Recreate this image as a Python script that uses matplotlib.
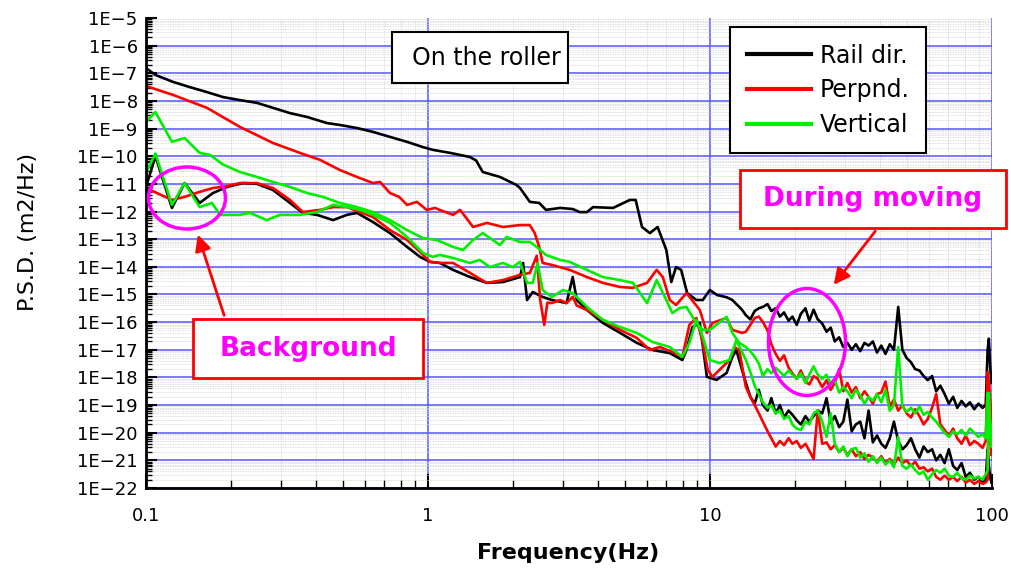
import numpy as np
import matplotlib
matplotlib.use("Agg")
import matplotlib.pyplot as plt
from matplotlib.patches import Ellipse, Rectangle, FancyArrowPatch
from matplotlib.ticker import FixedLocator, FixedFormatter, LogLocator, NullFormatter

# ---- data (frequency in Hz, PSD as log10 exponent) ----
# low-frequency part of each trace, own frequency points
# During moving
mv_black_f = [0.1, 0.108, 0.1246, 0.143, 0.1645, 0.1875, 0.2154, 0.2475, 0.282, 0.324,
              0.3724, 0.438, 0.4875, 0.56, 0.638, 0.733, 0.843, 0.96, 1.041, 1.2,
              1.409, 1.48, 1.564, 1.8, 2.06, 2.12, 2.297, 2.48, 2.62, 2.94,
              3.26, 3.45, 3.66, 3.85, 4.53, 5.2, 5.45, 5.74, 6.12, 6.52,
              7.0, 7.29, 7.58, 7.9, 8.3, 8.94, 9.43, 9.98, 10.6, 11.45,
              12.0, 12.7, 13.0]
mv_black_e = [-6.81, -7.06, -7.31, -7.50, -7.68, -7.86, -7.97, -8.07, -8.25, -8.44,
              -8.58, -8.80, -8.87, -8.98, -9.12, -9.30, -9.48, -9.67, -9.77, -9.88,
              -10.03, -10.15, -10.57, -10.75, -11.04, -11.15, -11.65, -11.69, -11.94, -11.87,
              -11.91, -12.02, -12.02, -11.84, -11.87, -11.58, -11.58, -12.56, -12.78, -12.56,
              -13.39, -14.55, -14.01, -14.11, -14.95, -15.20, -15.20, -14.84, -15.02, -15.10,
              -15.20, -15.45, -15.56]

mv_red_f = [0.1, 0.1246, 0.1645, 0.2154, 0.282, 0.3517, 0.414, 0.4875, 0.56, 0.638,
            0.676, 0.733, 0.79, 0.843, 0.914, 0.99, 1.06, 1.10, 1.227, 1.30,
            1.445, 1.616, 1.845, 2.12, 2.297, 2.39, 2.48, 2.55, 2.75, 3.18,
            3.66, 4.17, 4.8, 5.33, 5.98, 6.47, 6.8, 7.2, 7.58, 8.25,
            9.2, 9.75, 10.2, 11.45, 12.0, 13.0]
mv_red_e = [-7.46, -7.78, -8.25, -8.94, -9.52, -9.88, -10.13, -10.50, -10.75, -10.97,
            -10.93, -11.33, -11.47, -11.76, -11.65, -11.94, -11.87, -11.94, -12.12, -11.94,
            -12.56, -12.41, -12.56, -12.49, -12.49, -12.78, -13.28, -13.86, -13.93, -14.11,
            -14.37, -14.58, -14.73, -14.76, -14.58, -14.11, -14.37, -15.20, -15.38, -14.95,
            -15.56, -16.39, -16.03, -15.85, -16.28, -16.39]

mv_green_f = [0.1, 0.108, 0.1236, 0.137, 0.155, 0.1686, 0.1875, 0.2154, 0.2475, 0.282,
              0.324, 0.3724, 0.4243, 0.4875, 0.56, 0.638, 0.733, 0.843, 0.96, 1.075,
              1.227, 1.332, 1.445, 1.564, 1.697, 1.8, 1.9, 2.12, 2.297, 2.43,
              2.62, 2.94, 3.18, 3.66, 4.17, 4.8, 5.33, 5.65, 5.98, 6.47,
              7.0, 7.35, 7.8, 8.25, 8.94, 9.43, 9.98, 11.45, 12.0, 12.7]
mv_green_e = [-8.76, -8.40, -9.48, -9.34, -9.88, -9.95, -10.30, -10.57, -10.75, -10.93,
              -11.11, -11.33, -11.47, -11.69, -11.84, -12.02, -12.31, -12.67, -12.96, -13.03,
              -13.28, -13.39, -13.03, -12.78, -13.03, -13.21, -12.92, -13.10, -13.10, -13.28,
              -13.57, -13.75, -13.82, -14.11, -14.37, -14.48, -14.58, -14.95, -15.31, -14.48,
              -15.20, -15.67, -15.49, -15.45, -16.03, -16.28, -16.28, -15.81, -16.39, -16.75]

# Background
bg_black_f = [0.1, 0.108, 0.1236, 0.137, 0.155, 0.1728, 0.1937, 0.2207, 0.2475, 0.282,
              0.324, 0.36, 0.404, 0.4604, 0.516, 0.56, 0.638, 0.733, 0.843, 0.937,
              1.016, 1.102, 1.227, 1.409, 1.616, 1.845, 2.12, 2.174, 2.245, 2.353,
              2.55, 2.75, 3.1, 3.26, 3.37, 3.66, 4.17, 4.8, 5.5, 6.26,
              7.2, 7.98, 8.25, 8.66, 9.2, 9.75, 10.55, 11.45, 12.0, 12.4]
bg_black_e = [-11.11, -10.00, -11.87, -10.97, -11.69, -11.33, -11.11, -10.97, -11.00, -11.22,
              -11.69, -12.05, -12.12, -12.31, -12.12, -12.05, -12.38, -12.78, -13.28, -13.64,
              -13.82, -13.86, -14.11, -14.37, -14.58, -14.55, -14.37, -13.86, -15.20, -14.91,
              -15.09, -15.20, -15.31, -14.37, -15.20, -15.56, -16.03, -16.39, -16.75, -17.01,
              -17.12, -17.37, -17.01, -16.18, -16.03, -17.98, -18.09, -17.84, -17.26, -17.01]

bg_red_f = [0.1, 0.1236, 0.137, 0.155, 0.1728, 0.1937, 0.2154, 0.2475, 0.282, 0.324,
            0.36, 0.414, 0.4604, 0.516, 0.574, 0.638, 0.733, 0.843, 0.937, 1.016,
            1.102, 1.227, 1.409, 1.616, 1.845, 2.12, 2.297, 2.43, 2.5, 2.584,
            2.65, 2.75, 2.94, 3.1, 3.26, 3.37, 3.66, 4.17, 4.8, 5.5,
            6.12, 6.63, 7.35, 7.98, 8.45, 8.94, 9.43, 9.82, 10.2, 10.8,
            11.73, 12.2, 12.7]
bg_red_e = [-11.15, -11.58, -11.47, -11.29, -11.15, -11.08, -10.97, -10.97, -11.15, -11.58,
            -12.02, -11.94, -11.84, -11.84, -12.02, -12.20, -12.67, -13.03, -13.46, -13.82,
            -13.86, -13.86, -14.22, -14.58, -14.48, -14.29, -14.22, -13.60, -15.20, -16.10,
            -15.30, -15.31, -15.20, -15.31, -15.09, -15.40, -15.56, -15.92, -16.28, -16.57,
            -17.01, -16.90, -17.08, -17.26, -16.10, -15.85, -16.75, -17.73, -17.98, -17.73,
            -17.37, -16.90, -17.01]

bg_green_f = [0.1, 0.108, 0.1236, 0.137, 0.155, 0.1714, 0.183, 0.2154, 0.2338, 0.268,
              0.2987, 0.3517, 0.404, 0.4604, 0.516, 0.574, 0.638, 0.733, 0.843, 0.96,
              1.041, 1.102, 1.227, 1.409, 1.526, 1.656, 1.845, 1.995, 2.12, 2.245,
              2.353, 2.446, 2.55, 2.75, 3.01, 3.26, 3.66, 4.17, 4.8, 5.5,
              6.26, 7.2, 7.98, 8.45, 8.94, 9.43, 9.98, 10.8, 11.73, 12.4]
bg_green_e = [-10.60, -9.90, -11.76, -10.97, -11.84, -11.69, -12.12, -12.12, -12.05, -12.31,
              -12.12, -12.12, -12.02, -11.76, -11.84, -11.94, -12.12, -12.41, -12.92, -13.50,
              -13.64, -13.57, -13.68, -13.86, -13.75, -14.01, -13.86, -14.01, -13.82, -14.58,
              -14.58, -13.86, -14.84, -15.09, -14.84, -14.95, -15.45, -15.92, -16.18, -16.39,
              -16.72, -16.90, -17.26, -16.75, -15.92, -16.54, -17.37, -17.48, -17.37, -16.65]

# high-frequency part, common frequency points (Hz)
hf_f = [13.4, 13.9, 14.4, 14.9, 15.4, 16.0, 16.5, 17.1, 17.7, 18.3,
        19.0, 19.6, 20.3, 21.0, 21.8, 22.5, 23.3, 24.1, 25.0, 25.9,
        26.8, 27.7, 28.7, 29.7, 30.7, 31.8, 32.9, 34.1, 35.3, 36.5,
        37.8, 39.1, 40.5, 41.9, 43.4, 44.9, 46.5, 48.1, 49.8, 51.6,
        53.4, 55.3, 57.2, 59.2, 61.3, 63.4, 65.6, 67.9, 70.3, 72.8,
        75.3, 78.0, 80.7, 83.5, 86.5, 89.5, 92.6, 95.0, 96.5, 97.5,
        98.5, 99.5]
hf_mv_black = [-15.75, -15.90, -15.60, -15.50, -15.45, -15.35, -15.60, -15.50, -15.80, -15.65,
               -15.95, -15.80, -16.10, -15.70, -15.50, -15.95, -15.55, -15.90, -16.05, -16.35,
               -16.20, -16.70, -16.55, -16.90, -16.75, -17.00, -16.80, -17.05, -16.75, -16.85,
               -16.70, -17.10, -16.85, -17.15, -16.80, -17.00, -15.45, -17.00, -17.30, -17.45,
               -17.70, -17.75, -17.95, -18.10, -17.95, -18.50, -18.30, -18.60, -18.95, -18.70,
               -19.10, -18.85, -19.05, -18.90, -19.15, -18.95, -19.10, -19.00, -17.00, -16.60,
               -17.60, -18.20]
hf_mv_red = [-16.35, -16.10, -15.85, -15.80, -16.00, -16.30, -16.80, -17.15, -17.40, -17.20,
             -17.65, -17.85, -18.05, -17.75, -18.15, -18.25, -17.95, -18.05, -18.35, -18.10,
             -18.45, -18.20, -17.70, -18.50, -18.20, -18.55, -18.35, -18.75, -18.50, -18.70,
             -18.95, -18.60, -18.55, -18.15, -19.05, -18.80, -19.20, -19.00, -19.30, -19.45,
             -19.15, -19.40, -19.70, -19.50, -19.10, -18.60, -19.70, -19.90, -20.10, -19.85,
             -20.20, -20.40, -20.10, -20.45, -20.30, -20.40, -20.55, -20.30, -17.80, -18.20,
             -18.80, -19.60]
hf_mv_green = [-16.90, -17.05, -17.25, -17.50, -17.95, -17.70, -17.85, -17.65, -17.80, -17.95,
               -17.75, -17.90, -18.05, -17.85, -18.20, -17.90, -17.60, -17.90, -18.05, -17.90,
               -18.25, -18.10, -18.55, -18.35, -18.50, -18.75, -18.45, -18.65, -18.95, -18.70,
               -18.85, -18.60, -18.90, -18.45, -19.20, -19.00, -16.90, -19.05, -19.25, -19.10,
               -19.30, -19.05, -19.35, -19.25, -19.45, -19.60, -19.80, -20.00, -20.15, -19.95,
               -20.05, -19.90, -20.10, -19.85, -20.00, -20.15, -20.05, -20.20, -18.56, -19.00,
               -19.60, -20.10]
hf_bg_black = [-18.20, -18.70, -18.95, -18.45, -19.00, -19.20, -18.75, -19.30, -19.00, -19.45,
               -19.20, -19.35, -19.55, -19.70, -19.40, -19.60, -19.40, -19.20, -19.30, -18.75,
               -19.65, -19.40, -19.80, -19.60, -18.80, -19.95, -19.70, -19.60, -20.20, -19.20,
               -20.35, -20.10, -20.40, -20.55, -20.20, -19.60, -20.30, -20.60, -20.45, -20.20,
               -20.60, -20.90, -20.50, -20.70, -20.60, -21.00, -20.80, -21.10, -20.60, -21.20,
               -21.35, -21.10, -21.60, -21.45, -21.70, -21.60, -21.80, -21.70, -20.60, -21.20,
               -21.60, -21.80]
hf_bg_red = [-18.35, -18.70, -19.00, -19.30, -19.60, -19.95, -20.20, -20.50, -20.30, -20.45,
             -20.20, -20.40, -20.30, -20.55, -20.40, -20.65, -20.95, -19.20, -20.40, -20.35,
             -20.60, -20.45, -20.70, -20.55, -20.80, -20.60, -20.85, -20.70, -20.95, -20.80,
             -20.90, -21.05, -20.85, -21.10, -20.95, -21.15, -20.90, -21.10, -21.00, -21.20,
             -21.05, -21.30, -21.25, -21.40, -21.30, -21.60, -21.70, -21.55, -21.70, -21.60,
             -21.75, -21.60, -21.80, -21.70, -21.85, -21.75, -21.85, -21.80, -21.70, -18.20,
             -19.80, -20.80]
hf_bg_green = [-17.37, -17.80, -18.30, -18.60, -18.90, -19.10, -19.00, -19.30, -19.20, -19.50,
               -19.40, -19.70, -19.85, -19.90, -19.60, -19.70, -19.30, -19.20, -19.60, -20.15,
               -19.30, -20.40, -20.70, -20.50, -20.85, -20.60, -20.55, -20.90, -20.75, -21.05,
               -20.85, -21.10, -20.90, -21.15, -21.00, -21.25, -20.15, -21.20, -21.30, -21.15,
               -21.35, -21.50, -21.40, -21.70, -21.50, -21.35, -21.45, -21.30, -21.55, -21.60,
               -21.45, -21.65, -21.70, -21.55, -21.65, -21.60, -21.70, -21.50, -21.35, -18.56,
               -19.80, -20.50]

legend_labels = ["Rail dir.", "Perpnd.", "Vertical"]
x_ticks = [0.1, 1, 10, 100]
x_ticklabels = ["0.1", "1", "10", "100"]
y_exponents = list(range(-22, -4))
y_ticklabels = ["1E\u2212%d" % (-k) for k in y_exponents]

W, H = 1012, 577


def fx(px):
    return px / W


def fy(py):
    return 1 - py / H


def trace(f_lo, e_lo, e_hi):
    f = np.array(f_lo + hf_f)
    return f, 10.0 ** np.array(e_lo + e_hi)


fig = plt.figure(figsize=(W / 100, H / 100), dpi=100)
ax = fig.add_axes([fx(146), fy(488), (992 - 146) / W, (488 - 18) / H])

lw = 1.9
ax.plot(*trace(bg_black_f, bg_black_e, hf_bg_black), color="black", lw=lw)
ax.plot(*trace(mv_black_f, mv_black_e, hf_mv_black), color="black", lw=lw, label=legend_labels[0])
ax.plot(*trace(bg_red_f, bg_red_e, hf_bg_red), color="#ff0000", lw=lw)
ax.plot(*trace(mv_red_f, mv_red_e, hf_mv_red), color="#ff0000", lw=lw, label=legend_labels[1])
ax.plot(*trace(bg_green_f, bg_green_e, hf_bg_green), color="#00ee00", lw=lw)
ax.plot(*trace(mv_green_f, mv_green_e, hf_mv_green), color="#00ee00", lw=lw, label=legend_labels[2])

ax.set_xscale("log")
ax.set_yscale("log")
ax.set_xlim(0.1, 100)
ax.set_ylim(1e-22, 1e-5)

ax.xaxis.set_major_locator(FixedLocator(x_ticks))
ax.xaxis.set_major_formatter(FixedFormatter(x_ticklabels))
ax.xaxis.set_minor_locator(LogLocator(base=10, subs=np.arange(2, 10), numticks=50))
ax.xaxis.set_minor_formatter(NullFormatter())
ax.yaxis.set_major_locator(FixedLocator([10.0 ** k for k in y_exponents]))
ax.yaxis.set_major_formatter(FixedFormatter(y_ticklabels))
ax.yaxis.set_minor_locator(LogLocator(base=10, subs=np.arange(2, 10), numticks=100))
ax.yaxis.set_minor_formatter(NullFormatter())

ax.set_axisbelow(True)
ax.grid(which="minor", color="#d2d2d2", lw=0.6, ls=(0, (1, 1)))
ax.grid(which="major", color="#5555ff", lw=1.1)
ax.yaxis.get_gridlines()[-1].set_visible(False)

for s in ["top", "right"]:
    ax.spines[s].set_visible(False)
for s in ["left", "bottom"]:
    ax.spines[s].set_linewidth(2)

ax.tick_params(axis="y", which="major", direction="in", length=8, width=1.5, labelsize=13, pad=6)
ax.tick_params(axis="y", which="minor", direction="in", length=4, width=1)
ax.tick_params(axis="x", which="major", direction="in", length=10, width=1.5, labelsize=13, pad=14)
ax.tick_params(axis="x", which="minor", direction="in", length=6, width=1)

ax.set_xlabel("Frequency(Hz)", fontsize=16, fontweight="bold")
ax.xaxis.set_label_coords((568 - 146) / 846, (488 - 553) / 470)
ax.xaxis.label.set_va("center")
ax.set_ylabel("P.S.D. (m2/Hz)", fontsize=16)
ax.yaxis.set_label_coords((28 - 146) / 846, (488 - 232) / 470)
ax.yaxis.label.set_va("center")

leg = ax.legend(loc="upper left", bbox_to_anchor=((730 - 146) / 846, (488 - 27) / 470),
                fontsize=17, frameon=True, fancybox=False, framealpha=1,
                edgecolor="black", borderpad=0.7, labelspacing=0.45,
                handlelength=2.75, handletextpad=0.35, borderaxespad=0)
leg.get_frame().set_linewidth(1.5)
for h in leg.get_lines():
    h.set_linewidth(3)


# text boxes
def box(x0, y0, x1, y1, ec, lw_box):
    r = Rectangle((fx(x0), fy(y1)), fx(x1) - fx(x0), fy(y0) - fy(y1),
                  transform=fig.transFigure, facecolor="white", edgecolor=ec, lw=lw_box, zorder=5)
    fig.add_artist(r)


box(392, 32, 568, 83, "black", 1.5)
fig.text(fx(486), fy(58), "On the roller", fontsize=17, ha="center", va="center", zorder=6)

box(740, 170, 1006, 228, "red", 2)
fig.text(fx(873), fy(199), "During moving", fontsize=19, fontweight="bold",
         color="#ff00ff", ha="center", va="center", zorder=6)

box(193, 319, 423, 378, "red", 2)
fig.text(fx(308), fy(349), "Background", fontsize=19, fontweight="bold",
         color="#ff00ff", ha="center", va="center", zorder=6)

# ellipses
fig.add_artist(Ellipse((fx(807), fy(342)), 77 / W, 107 / H, transform=fig.transFigure,
                       fill=False, edgecolor="#ff00ff", lw=2.5, zorder=4))
fig.add_artist(Ellipse((fx(187), fy(198)), 77 / W, 62 / H, transform=fig.transFigure,
                       fill=False, edgecolor="#ff00ff", lw=2.5, zorder=4))

# arrows
fig.add_artist(FancyArrowPatch((fx(877), fy(229)), (fx(832), fy(287)), transform=fig.transFigure,
                               arrowstyle="-|>", mutation_scale=24, color="red", lw=2, zorder=4))
fig.add_artist(FancyArrowPatch((fx(225), fy(318)), (fx(197), fy(232)), transform=fig.transFigure,
                               arrowstyle="-|>", mutation_scale=24, color="red", lw=2, zorder=4))

fig.savefig("out.png", dpi=100)
